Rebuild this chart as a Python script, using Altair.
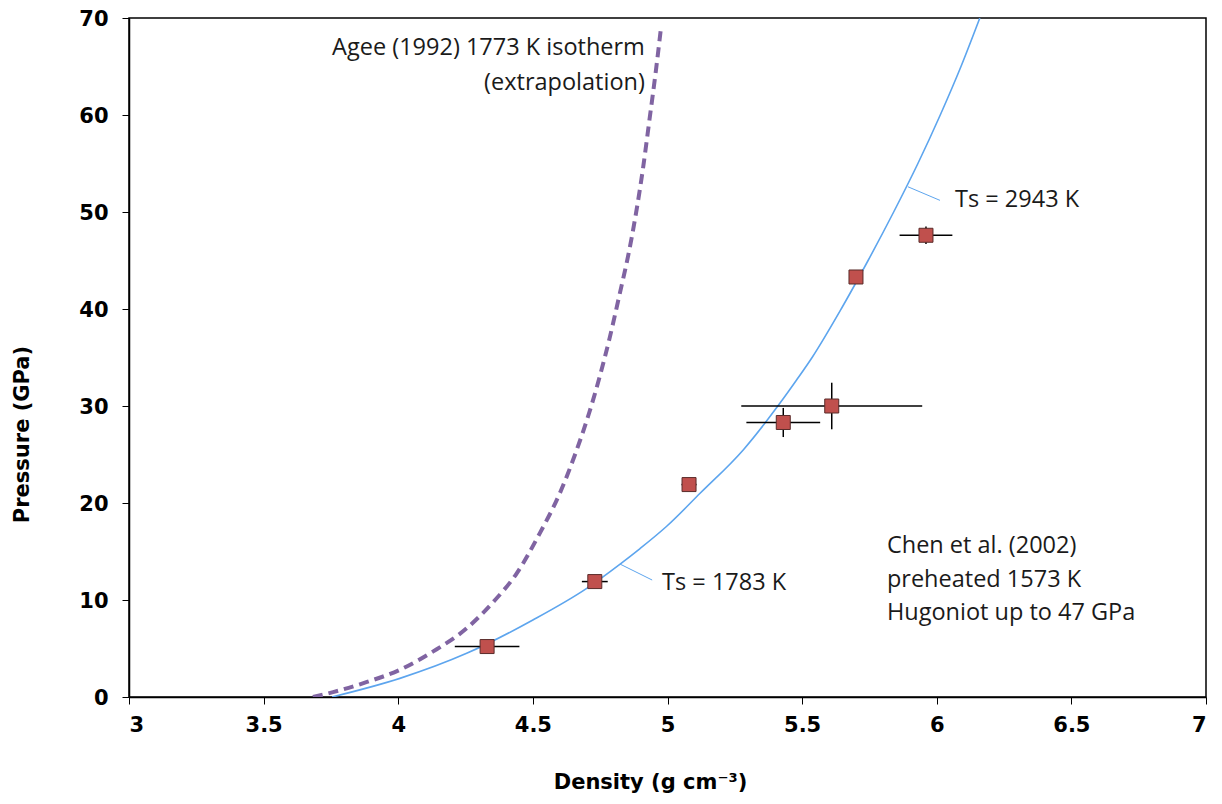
import altair as alt
import pandas as pd

# Measured data (Chen et al. 2002)
dens = [4.33, 4.73, 5.08, 5.43, 5.61, 5.70, 5.96]
pres = [5.2, 11.9, 21.9, 28.3, 30.0, 43.3, 47.6]
dens_err = [0.12, 0.048, 0.028, 0.137, 0.336, 0.0, 0.098]
pres_err = [0.0, 0.0, 0.0, 1.5, 2.4, 0.0, 0.9]

# Hugoniot curve (blue)
hug_d = [3.754, 4.006, 4.254, 4.50, 4.70, 4.824, 4.898, 4.997, 5.121, 5.282, 5.418, 5.48,
         5.537, 5.645, 5.745, 5.84, 5.93, 6.013, 6.09, 6.16]
hug_p = [0.0, 1.92, 4.5, 7.94, 11.2, 13.7, 15.3, 17.6, 21.0, 25.5, 30.3, 32.7,
         35.0, 40.0, 45.0, 50.0, 55.0, 60.0, 65.0, 70.0]

# Agee (1992) isotherm extrapolation (purple dashed)
ag_d = [3.683, 3.758, 3.884, 4.006, 4.13, 4.254, 4.353, 4.44, 4.526, 4.60, 4.658, 4.708,
        4.745, 4.785, 4.818, 4.868, 4.908, 4.933, 4.957, 4.975]
ag_p = [0.0, 0.5, 1.55, 2.8, 4.7, 7.08, 9.8, 12.75, 16.9, 21.0, 25.1, 29.2,
        32.7, 37.0, 41.0, 47.5, 54.3, 59.5, 64.6, 68.8]

x_ticks = [3, 3.5, 4, 4.5, 5, 5.5, 6, 6.5, 7]
y_ticks = [0, 10, 20, 30, 40, 50, 60, 70]

# Annotations
left_labels = ["Ts = 1783 K", "Ts = 2943 K",
               "Chen et al. (2002)", "preheated 1573 K", "Hugoniot up to 47 GPa"]
left_x = [4.98, 6.068, 5.815, 5.815, 5.815]
left_y = [11.75, 51.2, 15.6, 12.1, 8.7]

right_labels = ["Agee (1992) 1773 K isotherm", "(extrapolation)"]
right_x = [4.916, 4.916]
right_y = [66.9, 63.3]

lead_x = [4.824, 5.893]
lead_y = [13.7, 52.6]
lead_x2 = [4.943, 6.012]
lead_y2 = [12.06, 51.2]

pts = pd.DataFrame({
    "d": dens, "p": pres,
    "d_lo": [a - e for a, e in zip(dens, dens_err)],
    "d_hi": [a + e for a, e in zip(dens, dens_err)],
    "p_lo": [a - e for a, e in zip(pres, pres_err)],
    "p_hi": [a + e for a, e in zip(pres, pres_err)],
})
hug = pd.DataFrame({"d": hug_d, "p": hug_p, "i": list(range(len(hug_d)))})
agee = pd.DataFrame({"d": ag_d, "p": ag_p, "i": list(range(len(ag_d)))})
lab_l = pd.DataFrame({"t": left_labels, "d": left_x, "p": left_y})
lab_r = pd.DataFrame({"t": right_labels, "d": right_x, "p": right_y})
leads = pd.DataFrame({"d": lead_x, "p": lead_y, "d2": lead_x2, "p2": lead_y2})

xs = alt.Scale(domain=[3, 7], nice=False, zero=False)
ys = alt.Scale(domain=[0, 70], nice=False)

AX_FONT = "DejaVu Sans"
TXT_FONT = "Open Sans"
TXT_SIZE = 23.5

x_axis = alt.Axis(values=x_ticks, format="~g", title="Density (g cm⁻³)",
                  grid=False, domainColor="#000", domainWidth=1.5,
                  tickColor="#000", tickSize=7, tickWidth=1,
                  labelFont=AX_FONT, labelFontWeight="bold", labelFontSize=21,
                  labelColor="#000", labelPadding=10,
                  titleFont=AX_FONT, titleFontWeight="bold", titleFontSize=21,
                  titleColor="#000", titleX=521, titleY=85, titleBaseline="middle")
y_axis = alt.Axis(values=y_ticks, title="Pressure (GPa)",
                  grid=False, domainColor="#000", domainWidth=1.5,
                  tickColor="#000", tickSize=7, tickWidth=1,
                  labelFont=AX_FONT, labelFontWeight="bold", labelFontSize=21,
                  labelColor="#000", labelPadding=14, labelOffset=1,
                  titleFont=AX_FONT, titleFontWeight="bold", titleFontSize=21,
                  titleColor="#000", titleX=-107, titleY=416, titleAngle=-90,
                  titleBaseline="middle")


def X(field):
    return alt.X(field, scale=xs, axis=x_axis)


def Y(field):
    return alt.Y(field, scale=ys, axis=y_axis)


hug_layer = alt.Chart(hug).mark_line(color="#5DA5EE", strokeWidth=1.6, clip=True,
                                     interpolate="monotone").encode(
    x=X("d:Q"), y=Y("p:Q"), order="i:Q",
)

agee_layer = alt.Chart(agee).mark_line(color="#8064A2", strokeWidth=4, strokeDash=[10, 6],
                                       clip=True, interpolate="monotone").encode(
    x=X("d:Q"), y=Y("p:Q"), order="i:Q",
)

xerr = alt.Chart(pts).mark_rule(color="#000", strokeWidth=1.5).encode(
    x=X("d_lo:Q"), x2="d_hi:Q", y=Y("p:Q"),
)
yerr = alt.Chart(pts).mark_rule(color="#000", strokeWidth=1.5).encode(
    y=Y("p_lo:Q"), y2="p_hi:Q", x=X("d:Q"),
)
squares = alt.Chart(pts).mark_point(shape="square", filled=True, size=196,
                                    fill="#C0504D", stroke="#5A2C2A", strokeWidth=1,
                                    opacity=1).encode(
    x=X("d:Q"), y=Y("p:Q"),
)

leaders = alt.Chart(leads).mark_rule(color="#5DA5EE", strokeWidth=1).encode(
    x=X("d:Q"), x2="d2:Q", y=Y("p:Q"), y2="p2:Q",
)

txt_l = alt.Chart(lab_l).mark_text(align="left", baseline="middle", font=TXT_FONT,
                                   fontSize=TXT_SIZE, color="#1a1a1a").encode(
    x=X("d:Q"), y=Y("p:Q"), text="t:N",
)
txt_r = alt.Chart(lab_r).mark_text(align="right", baseline="middle", font=TXT_FONT,
                                   fontSize=TXT_SIZE, color="#1a1a1a").encode(
    x=X("d:Q"), y=Y("p:Q"), text="t:N",
)

chart = alt.layer(hug_layer, agee_layer, leaders, xerr, yerr, squares, txt_l, txt_r).properties(
    width=1077, height=679,
    autosize=alt.AutoSizeParams(type="none"),
    padding={"left": 121, "top": 10, "right": 8, "bottom": 105},
    background="white",
).configure_view(stroke="#000", strokeWidth=1.5)

chart.save("out.html", embed_options={"renderer": "svg", "actions": False})
